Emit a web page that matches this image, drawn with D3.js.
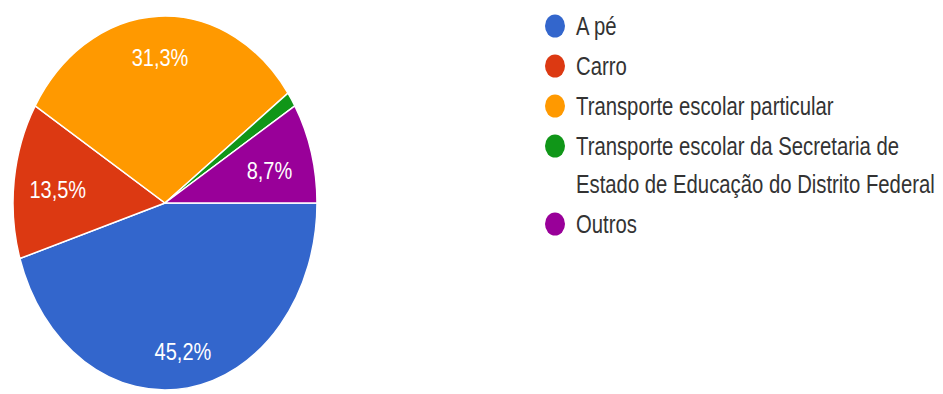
<!DOCTYPE html>
<html>
<head>
<meta charset="utf-8">
<script src="https://cdn.jsdelivr.net/npm/d3@7"></script>
<style>
  html, body { margin: 0; padding: 0; background: #fff; }
  svg { display: block; }
</style>
</head>
<body>
<svg id="chart" width="943" height="394"></svg>
<script>
// Meio de transporte utilizado para chegar à escola
const categories = [
  "A pé",
  "Carro",
  "Transporte escolar particular",
  "Transporte escolar da Secretaria de Estado de Educação do Distrito Federal",
  "Outros"
];
const values = [45.2, 13.5, 31.3, 1.3, 8.7];
const valueLabels = ["45,2%", "13,5%", "31,3%", "1,3%", "8,7%"];
const colors = ["#3366cc", "#dc3912", "#ff9900", "#109618", "#990099"];

const W = 943, H = 394;
const cx = 165, cy = 203, rx = 152, ry = 187;   // the pie is drawn as a vertically stretched ellipse
const stretch = 1.24;                             // vertical stretch applied to text as well
const fontFamily = "'Liberation Sans', Arial, sans-serif";

const svg = d3.select("#chart");
svg.append("rect").attr("width", W).attr("height", H).attr("fill", "#fff");

const pie = d3.pie()
  .sort(null)
  .value(d => d)
  .startAngle(Math.PI / 2)
  .endAngle(Math.PI / 2 + 2 * Math.PI);
const arcs = pie(values);

const arc = d3.arc().innerRadius(0).outerRadius(ry);

const pieG = svg.append("g")
  .attr("transform", `translate(${cx},${cy}) scale(${rx / ry},1)`);

pieG.selectAll("path")
  .data(arcs)
  .join("path")
  .attr("d", arc)
  .attr("fill", (d, i) => colors[i])
  .attr("stroke", "#fff")
  .attr("stroke-width", 1.5)
  .attr("vector-effect", "non-scaling-stroke");

// Percentage labels: placed along each slice's mid-angle, pulled inward a little
// for slices pointing sideways so the wider text stays clear of the rim
const labelSize = 20;
arcs.forEach((a, i) => {
  const span = a.endAngle - a.startAngle;
  if (span < 0.3) return;                       // tiny slices carry no label
  const mid = (a.startAngle + a.endAngle) / 2;
  const ux = Math.sin(mid), uy = -Math.cos(mid);
  const d = 0.8 - 0.09 * Math.abs(ux);
  const x = cx + ux * d * rx;
  const y = cy + uy * d * ry;
  svg.append("text")
    .attr("transform", `translate(${x},${y}) scale(1,${stretch})`)
    .attr("text-anchor", "middle")
    .attr("dy", "0.47em")
    .attr("font-family", fontFamily)
    .attr("font-size", labelSize)
    .attr("fill", "#fff")
    .text(valueLabels[i]);
});

// Legend
const legendX = 555, textX = 576;
const rowStart = 26, rowStep = 40, lineStep = 38;
const legendSize = 20.3;
const maxLine = 372;

const meas = svg.append("text")
  .attr("font-family", fontFamily)
  .attr("font-size", legendSize)
  .attr("visibility", "hidden");
function wrap(str) {
  const words = str.split(" ");
  const lines = [];
  let cur = "";
  words.forEach(w => {
    const test = cur ? cur + " " + w : w;
    meas.text(test);
    if (cur && meas.node().getComputedTextLength() > maxLine) {
      lines.push(cur);
      cur = w;
    } else {
      cur = test;
    }
  });
  if (cur) lines.push(cur);
  return lines;
}

let y = rowStart;
categories.forEach((c, i) => {
  const lines = wrap(c);
  svg.append("ellipse")
    .attr("cx", legendX)
    .attr("cy", y)
    .attr("rx", 10)
    .attr("ry", 11.5)
    .attr("fill", colors[i]);
  lines.forEach((ln, j) => {
    svg.append("text")
      .attr("transform", `translate(${textX},${y + j * lineStep}) scale(1,${stretch})`)
      .attr("dy", "0.35em")
      .attr("font-family", fontFamily)
      .attr("font-size", legendSize)
      .attr("fill", "#333")
      .text(ln);
  });
  y += (lines.length - 1) * lineStep + rowStep;
});
meas.remove();
</script>
</body>
</html>
